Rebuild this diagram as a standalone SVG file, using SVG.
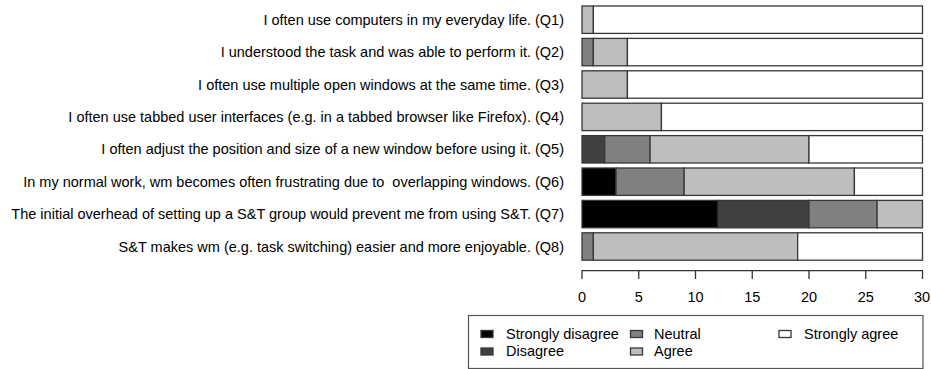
<svg xmlns="http://www.w3.org/2000/svg" width="931" height="369" viewBox="0 0 931 369">
<style>
  text { font-family: "Liberation Sans", Arial, sans-serif; font-size: 14.5px; fill: #000; }
  .lab { text-anchor: end; }
  .tick { text-anchor: middle; }
  rect.s { stroke: #383838; stroke-width: 1.3; }
  .sd { fill: #000000; }
  .d { fill: #404040; }
  .n { fill: #808080; }
  .a { fill: #bebebe; }
  .sa { fill: #ffffff; }
  .axis { stroke: #333; stroke-width: 1.3; fill: none; }
</style>
<rect width="931" height="369" fill="#fff"/>

<g id="q1">
  <text class="lab" x="564" y="24.7">I often use computers in my everyday life. (Q1)</text>
  <rect class="s a" x="582" y="6" width="11.35" height="27.4"/>
  <rect class="s sa" x="593.35" y="6" width="329.15" height="27.4"/>
</g>
<g id="q2">
  <text class="lab" x="564" y="57.1">I understood the task and was able to perform it. (Q2)</text>
  <rect class="s n" x="582" y="38.4" width="11.35" height="27.4"/>
  <rect class="s a" x="593.35" y="38.4" width="34.05" height="27.4"/>
  <rect class="s sa" x="627.4" y="38.4" width="295.1" height="27.4"/>
</g>
<g id="q3">
  <text class="lab" x="564" y="89.5">I often use multiple open windows at the same time. (Q3)</text>
  <rect class="s a" x="582" y="70.8" width="45.4" height="27.4"/>
  <rect class="s sa" x="627.4" y="70.8" width="295.1" height="27.4"/>
</g>
<g id="q4">
  <text class="lab" x="564" y="121.9">I often use tabbed user interfaces (e.g. in a tabbed browser like Firefox). (Q4)</text>
  <rect class="s a" x="582" y="103.2" width="79.45" height="27.4"/>
  <rect class="s sa" x="661.45" y="103.2" width="261.05" height="27.4"/>
</g>
<g id="q5">
  <text class="lab" x="564" y="154.3">I often adjust the position and size of a new window before using it. (Q5)</text>
  <rect class="s d" x="582" y="135.6" width="22.7" height="27.4"/>
  <rect class="s n" x="604.7" y="135.6" width="45.4" height="27.4"/>
  <rect class="s a" x="650.1" y="135.6" width="158.9" height="27.4"/>
  <rect class="s sa" x="809" y="135.6" width="113.5" height="27.4"/>
</g>
<g id="q6">
  <text class="lab" x="564" y="186.7" xml:space="preserve">In my normal work, wm becomes often frustrating due to  overlapping windows. (Q6)</text>
  <rect class="s sd" x="582" y="168" width="34.05" height="27.4"/>
  <rect class="s n" x="616.05" y="168" width="68.1" height="27.4"/>
  <rect class="s a" x="684.15" y="168" width="170.25" height="27.4"/>
  <rect class="s sa" x="854.4" y="168" width="68.1" height="27.4"/>
</g>
<g id="q7">
  <text class="lab" x="564" y="219.1">The initial overhead of setting up a S&amp;T group would prevent me from using S&amp;T. (Q7)</text>
  <rect class="s sd" x="582" y="200.4" width="136.2" height="27.4"/>
  <rect class="s d" x="718.2" y="200.4" width="90.8" height="27.4"/>
  <rect class="s n" x="809" y="200.4" width="68.1" height="27.4"/>
  <rect class="s a" x="877.1" y="200.4" width="45.4" height="27.4"/>
</g>
<g id="q8">
  <text class="lab" x="564" y="251.5">S&amp;T makes wm (e.g. task switching) easier and more enjoyable. (Q8)</text>
  <rect class="s n" x="582" y="232.8" width="11.35" height="27.4"/>
  <rect class="s a" x="593.35" y="232.8" width="204.3" height="27.4"/>
  <rect class="s sa" x="797.65" y="232.8" width="124.85" height="27.4"/>
</g>

<g id="axis">
  <path class="axis" d="M582,279 V270.7 H922.5 V279 M638.75,270.7 V279 M695.5,270.7 V279 M752.25,270.7 V279 M809,270.7 V279 M865.75,270.7 V279"/>
  <text class="tick" x="582" y="302">0</text>
  <text class="tick" x="638.75" y="302">5</text>
  <text class="tick" x="695.5" y="302">10</text>
  <text class="tick" x="752.25" y="302">15</text>
  <text class="tick" x="809" y="302">20</text>
  <text class="tick" x="865.75" y="302">25</text>
  <text class="tick" x="922" y="302">30</text>
</g>

<g id="legend">
  <rect x="468.5" y="315.5" width="454.5" height="53" fill="#fff" stroke="#555" stroke-width="1.2"/>
  <rect class="s sd" x="481" y="330.5" width="12" height="7"/>
  <text x="506" y="338.5">Strongly disagree</text>
  <rect class="s d" x="481" y="348" width="12" height="7"/>
  <text x="506" y="356">Disagree</text>
  <rect class="s n" x="630.5" y="330.5" width="12" height="7"/>
  <text x="654" y="338.5">Neutral</text>
  <rect class="s a" x="630.5" y="348" width="12" height="7"/>
  <text x="654" y="356">Agree</text>
  <rect class="s sa" x="779" y="330.5" width="12" height="7"/>
  <text x="804" y="338.5">Strongly agree</text>
</g>
</svg>
